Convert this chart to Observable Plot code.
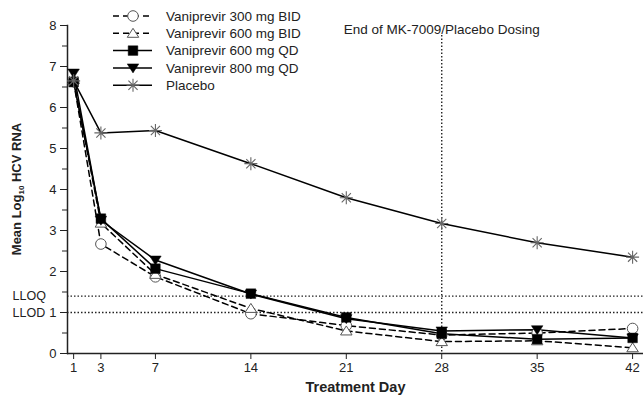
<!DOCTYPE html>
<html><head><meta charset="utf-8">
<script src="https://cdn.jsdelivr.net/npm/d3@7"></script>
<script src="https://cdn.jsdelivr.net/npm/@observablehq/plot@0.6"></script>
<style>body{margin:0;background:#fff} svg{display:block}</style>
</head><body><div id="chart"></div>
<script>
// ---- data ----
const days = [1, 3, 7, 14, 21, 28, 35, 42];
const seriesNames = ["Vaniprevir 300 mg BID", "Vaniprevir 600 mg BID", "Vaniprevir 600 mg QD", "Vaniprevir 800 mg QD", "Placebo"];
const v300BID = [6.63, 2.67, 1.87, 0.97, 0.68, 0.45, 0.50, 0.61];
const v600BID = [6.68, 3.18, 1.93, 1.10, 0.55, 0.29, 0.31, 0.14];
const v600QD  = [6.62, 3.29, 2.07, 1.46, 0.88, 0.48, 0.35, 0.38];
const v800QD  = [6.84, 3.25, 2.28, 1.45, 0.85, 0.55, 0.58, 0.38];
const placebo = [6.65, 5.38, 5.44, 4.63, 3.80, 3.17, 2.70, 2.35];
const xTicks = [1, 3, 7, 14, 21, 28, 35, 42];
const yTicks = [0, 1, 2, 3, 4, 5, 6, 7, 8];
const yMinorTicks = [0.5, 1.5, 2.5, 3.5, 4.5, 5.5, 6.5, 7.5];
const limitValues = [1.4, 1.0];
const limitLabels = ["LLOQ", "LLOD"];
const endDosingDay = [28];
const endDosingLabel = "End of MK-7009/Placebo Dosing";
const xLabel = "Treatment Day";

// ---- symbols ----
const rad = size => Math.sqrt(size / Math.PI);
const symCircle = {draw(c, size){ const r = rad(size); c.moveTo(r, 0); c.arc(0, 0, r, 0, 2*Math.PI); }};
const symSquare = {draw(c, size){ const r = rad(size); c.rect(-r, -r, 2*r, 2*r); }};
const symTriUp = {draw(c, size){ const r = rad(size); const w = r*1.15; c.moveTo(0, -r); c.lineTo(w, r*0.8); c.lineTo(-w, r*0.8); c.closePath(); }};
const symTriDown = {draw(c, size){ const r = rad(size); const w = r*1.15; c.moveTo(0, r); c.lineTo(w, -r*0.8); c.lineTo(-w, -r*0.8); c.closePath(); }};
const symStar = {draw(c, size){ const r = rad(size); for (let k = 0; k < 4; k++){ const a = k*Math.PI/4; c.moveTo(-r*Math.cos(a), -r*Math.sin(a)); c.lineTo(r*Math.cos(a), r*Math.sin(a)); } }};

const seriesValues = [v300BID, v600BID, v600QD, v800QD, placebo];
const styles = [
  {dash: "6,4", symbol: symCircle, fill: "white", stroke: "#555", r: 5.3, sw: 1},
  {dash: "6,4", symbol: symTriUp, fill: "white", stroke: "#555", r: 5, sw: 1},
  {dash: null, symbol: symSquare, fill: "black", stroke: "black", r: 4.8, sw: 0.5},
  {dash: null, symbol: symTriDown, fill: "black", stroke: "black", r: 5, sw: 0.5},
  {dash: null, symbol: symStar, fill: "none", stroke: "#666", r: 6.5, sw: 1.1}
];

const table = seriesNames.flatMap((name, i) => days.map((d, j) => ({series: name, day: d, value: seriesValues[i][j]})));
const limits = limitValues.map((v, i) => ({value: v, label: limitLabels[i]}));

const lineMarks = seriesNames.map((name, i) => Plot.line(table.filter(d => d.series === name), {
  x: "day", y: "value", stroke: "black", strokeWidth: 1.5, strokeDasharray: styles[i].dash || undefined
}));
const dotMarks = seriesNames.map((name, i) => Plot.dot(table.filter(d => d.series === name), {
  x: "day", y: "value", symbol: styles[i].symbol, r: styles[i].r, fill: styles[i].fill, stroke: styles[i].stroke, strokeWidth: styles[i].sw
}));

const chart = Plot.plot({
  width: 643, height: 400,
  marginLeft: 67, marginRight: 0, marginTop: 25, marginBottom: 47,
  style: {fontFamily: "'Liberation Sans', Arial, sans-serif", fontSize: "13px", color: "#222", background: "white"},
  x: {domain: [0.55, 42.8]},
  y: {domain: [0, 8]},
  marks: [
    Plot.ruleY(limits, {y: "value", stroke: "#222", strokeWidth: 1.4, strokeDasharray: "1.5,2"}),
    Plot.ruleX(endDosingDay, {x: d => d, stroke: "#222", strokeWidth: 1.4, strokeDasharray: "1.5,2", insetTop: 10}),
    Plot.axisX(xTicks, {tickSize: 6, tickPadding: 3, label: null, fontSize: 13}),
    Plot.axisY(yTicks, {tickSize: 7, tickPadding: 4, label: null, fontSize: 13}),
    Plot.axisY(yMinorTicks, {tickSize: 5, tickFormat: () => "", label: null}),
    Plot.ruleY([0], {stroke: "#222", strokeWidth: 1.5}),
    Plot.frame({anchor: "left", stroke: "#222", strokeWidth: 1.5}),
    Plot.text(limits, {y: "value", text: "label", frameAnchor: "left", dx: -55, textAnchor: "start", fontSize: 12.5}),
    Plot.text([endDosingLabel], {x: endDosingDay[0], text: d => d, frameAnchor: "top", dy: -1, fontSize: 13.5}),
    Plot.text([xLabel], {text: d => d, frameAnchor: "bottom", dy: 38, fontWeight: "bold", fontSize: 14.5}),
    ...lineMarks,
    ...dotMarks
  ]
});
document.getElementById("chart").appendChild(chart);

// ---- y label with subscript ----
const svg = d3.select(chart);
const yl = svg.append("text")
  .attr("transform", "translate(21,189) rotate(-90)")
  .attr("text-anchor", "middle")
  .attr("font-weight", "bold").attr("font-size", 13)
  .attr("fill", "#222");
yl.append("tspan").text("Mean Log");
yl.append("tspan").attr("font-size", 8).attr("dy", 3).text("10");
yl.append("tspan").attr("dy", -3).text(" HCV RNA");

// ---- legend ----
const lg = svg.append("g").attr("font-size", 13.5).attr("fill", "#222").attr("text-anchor", "start");
seriesNames.forEach((name, i) => {
  const y = 16 + i * 17.3;
  const st = styles[i];
  lg.append("line").attr("x1", 113).attr("x2", 152).attr("y1", y).attr("y2", y)
    .attr("stroke", "black").attr("stroke-width", 1.5).attr("stroke-dasharray", st.dash);
  lg.append("path").attr("transform", `translate(133,${y})`)
    .attr("d", d3.symbol(st.symbol, st.r * st.r * Math.PI)())
    .attr("fill", st.fill).attr("stroke", st.stroke).attr("stroke-width", st.sw);
  lg.append("text").attr("x", 166).attr("y", y).attr("dy", "0.35em").attr("text-anchor", "start").text(name);
});
</script>
</body></html>
